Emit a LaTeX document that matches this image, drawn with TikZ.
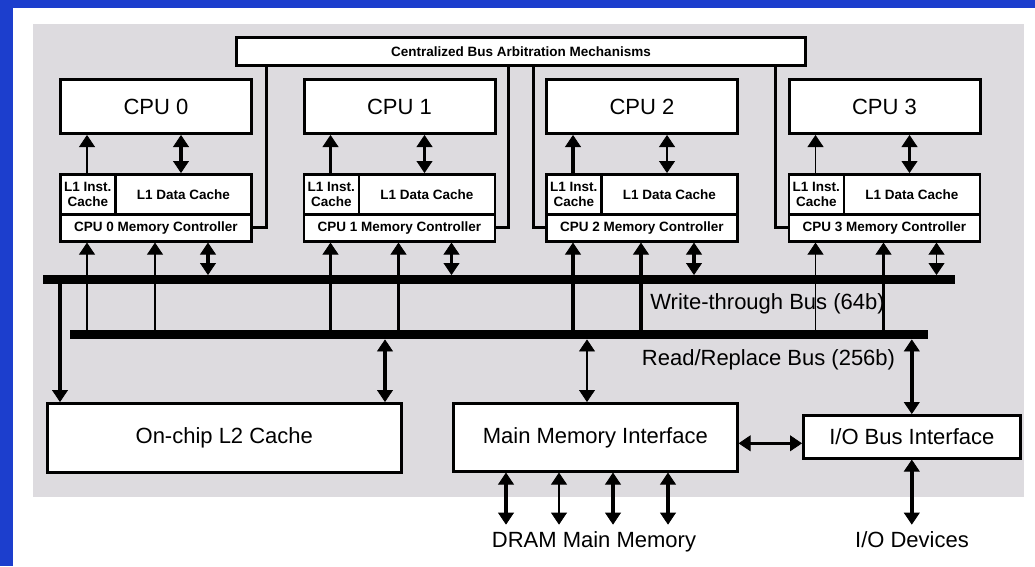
\documentclass[tikz,border=0pt]{standalone}
\usepackage{fontspec}
\setmainfont{Liberation Sans}
\usetikzlibrary{arrows.meta,calc}
\definecolor{bgblue}{RGB}{28,62,205}
\definecolor{panelgray}{RGB}{221,219,223}
\newcommand\bigfnt{\fontsize{22}{26}\selectfont}
\newcommand\smlfnt{\fontsize{13.5}{15}\selectfont\bfseries}
\tikzset{
  box/.style={draw=black, fill=white, line width=2.6pt, inner sep=0pt, anchor=north west},
  tip/.tip={Triangle[width=16pt,length=12pt,line width=0.8pt]},
  ar/.style={-tip},
  dar/.style={tip-tip},
  thn/.style={line width=1.6pt},
  thk/.style={line width=3.4pt},
  bus/.style={fill=black, draw=none, inner sep=0pt, minimum height=9pt, anchor=north west},
  lbl/.style={font=\bigfnt, anchor=base, inner sep=0pt},
}
\begin{document}
\begin{tikzpicture}[x=1pt,y=-1pt]
\fill[bgblue] (0,0) rectangle (1035,566);
\fill[white] (13,8) rectangle (1035,566);
\fill[panelgray] (33,24) rectangle (1024,497);
\useasboundingbox (0,0) rectangle (1035,566);

% buses
\node[bus, minimum width=912pt] (wt) at (43,275) {};
\node[bus, minimum width=858pt] (rr) at (70,330) {};
\node[lbl] (wtl) at (767.5,309) {Write-through Bus (64b)};
\node[lbl] (rrl) at (768.5,365) {Read/Replace Bus (256b)};

% arbitration
\node[box, line width=3pt, minimum width=569pt, minimum height=28pt, font=\smlfnt] (arb) at (235,36) {Centralized Bus Arbitration Mechanisms};

\foreach \i/\L/\wA/\wB/\wC/\wD/\wE in {0/59/1.6pt/3.4pt/1.6pt/1.6pt/3.4pt, 1/302.5/3.4pt/3.4pt/3.4pt/3.4pt/3.4pt, 2/545/3.4pt/1.6pt/3.4pt/3.4pt/3.4pt, 3/787.5/1.6pt/3.4pt/1.6pt/3.4pt/1.6pt} {
  \node[box, line width=3pt, minimum width=191pt, minimum height=54pt, font=\bigfnt] (cpu\i) at (\L,78) {CPU \i};
  \node[box, minimum width=55pt, minimum height=40pt, align=center, font=\smlfnt] (inst\i) at (\L,173) {L1 Inst.\\Cache};
  \node[box, minimum width=136pt, minimum height=40pt, font=\smlfnt] (data\i) at (\L+55,173) {L1 Data Cache};
  \node[box, minimum width=191pt, minimum height=27pt, font=\smlfnt] (ctrl\i) at (\L,213) {CPU \i\ Memory Controller};
  \coordinate (ia\i) at ($(inst\i.north west)+(28,0)$);
  \draw[line width=\wA, ar] (ia\i) -- (ia\i |- cpu\i.south);
  \coordinate (ib\i) at ($(data\i.north west)+(67,0)$);
  \draw[line width=\wB, dar] (ib\i) -- (ib\i |- cpu\i.south);
  \coordinate (ba\i) at ($(ctrl\i.south west)+(28,0)$);
  \draw[line width=\wC, ar] (ba\i |- rr.north) -- (ba\i);
  \coordinate (bb\i) at ($(ctrl\i.south west)+(96,0)$);
  \draw[line width=\wD, ar] (bb\i |- rr.north) -- (bb\i);
  \coordinate (bc\i) at ($(ctrl\i.south west)+(149,0)$);
  \draw[line width=\wE, dar] (bc\i |- wt.north) -- (bc\i);
}

% arbitration links
\draw[line width=3pt] (ctrl0.east) -- ++(14,0) coordinate (k0) -- (k0 |- arb.south);
\draw[line width=3pt] (ctrl1.east) -- ++(12.5,0) coordinate (k1) -- (k1 |- arb.south);
\draw[line width=3pt] (ctrl2.west) -- ++(-12,0) coordinate (k2) -- (k2 |- arb.south);
\draw[line width=3pt] (ctrl3.west) -- ++(-12.5,0) coordinate (k3) -- (k3 |- arb.south);

% lower blocks
\node[box, minimum width=354pt, minimum height=69pt, font=\bigfnt] (l2) at (46,402) {On-chip L2 Cache};
\node[box, minimum width=284pt, minimum height=68pt, font=\bigfnt] (mmi) at (452,402) {Main Memory Interface};
\node[box, minimum width=217pt, minimum height=43pt, font=\bigfnt] (iob) at (802,414) {I/O Bus Interface};

\coordinate (l2a) at ($(l2.north west)+(14,0)$);
\draw[thk, ar] (l2a |- wt.south) -- (l2a);
\coordinate (l2b) at ($(l2.north west)+(339,0)$);
\draw[thk, dar] (l2b |- rr.south) -- (l2b);
\coordinate (mma) at ($(mmi.north west)+(135,0)$);
\draw[thn, dar] (mma |- rr.south) -- (mma);
\draw[thk, dar] (iob.north |- rr.south) -- (iob.north);
\coordinate (hh) at ($(mmi.east)+(0,6)$);
\draw[thk, dar] (hh) -- (hh -| iob.west);

\foreach \dx/\lw in {54/3.4pt,107/1.6pt,161/3.4pt,216/3.4pt} {
  \coordinate (dm\dx) at ($(mmi.south west)+(\dx,52)$);
  \draw[line width=\lw, dar] (dm\dx |- mmi.south) -- (dm\dx);
}
\coordinate (dv) at ($(iob.south)+(0,65)$);
\draw[thk, dar] (iob.south) -- (dv);

\node[lbl] (dram) at (594,547) {DRAM Main Memory};
\node[lbl] (iodev) at (912,547) {I/O Devices};
\end{tikzpicture}
\end{document}
